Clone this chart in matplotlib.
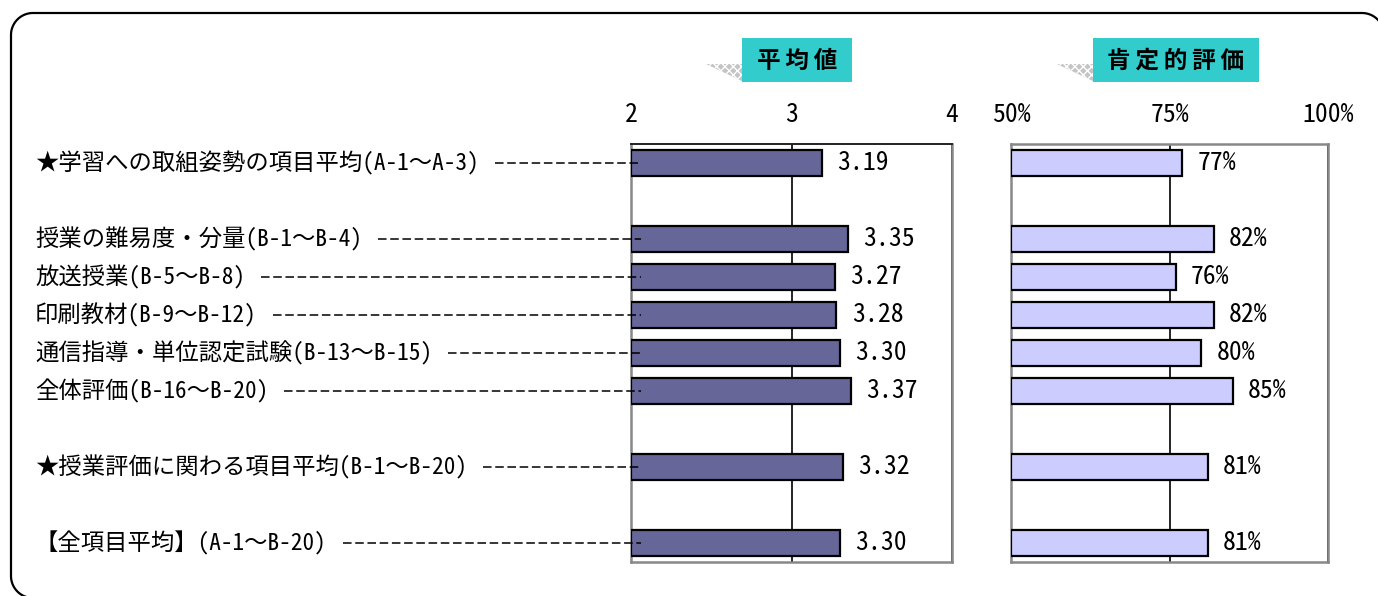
import numpy as np
import matplotlib
matplotlib.use('Agg')
import matplotlib.pyplot as plt
from matplotlib.patches import Rectangle, Polygon
from matplotlib.lines import Line2D
from matplotlib.transforms import Affine2D, blended_transform_factory
from matplotlib.ticker import FuncFormatter

plt.rcParams['font.family'] = ['Noto Sans CJK JP', 'DejaVu Sans']

categories = [
    "★学習への取組姿勢の項目平均(A-1～A-3)",
    "授業の難易度・分量(B-1～B-4)",
    "放送授業(B-5～B-8)",
    "印刷教材(B-9～B-12)",
    "通信指導・単位認定試験(B-13～B-15)",
    "全体評価(B-16～B-20)",
    "★授業評価に関わる項目平均(B-1～B-20)",
    "【全項目平均】(A-1～B-20)",
]
means = [3.19, 3.35, 3.27, 3.28, 3.30, 3.37, 3.32, 3.30]
positive = [77, 82, 76, 82, 80, 85, 81, 81]
rows = [0, 2, 3, 4, 5, 6, 8, 10]
mean_ticks = [2, 3, 4]
pct_ticks = [50, 75, 100]
title_mean = "平均値"
title_pos = "肯定的評価"

W, H = 1378, 596
fig = plt.figure(figsize=(W / 100, H / 100), dpi=100)
pix = Affine2D().scale(1 / W, -1 / H).translate(0, 1) + fig.transFigure

MONO = ['Noto Sans Mono CJK JP', 'Noto Sans CJK JP', 'DejaVu Sans']
NUMSIZE = 18.5

def make_axes(x0, x1):
    return fig.add_axes([x0 / W, 1 - 562 / H, (x1 - x0) / W, (562 - 144) / H])

ax1 = make_axes(631, 952)
ax2 = make_axes(1011, 1328)

specs = [
    (ax1, means, mean_ticks, '#666699', lambda v: f"{v:.2f}", lambda v, p: f"{v:.0f}"),
    (ax2, positive, pct_ticks, '#CCCCFF', lambda v: f"{v:.0f}%", lambda v, p: f"{v:.0f}%"),
]
for ax, vals, ticks, color, fmt, tfmt in specs:
    base = ticks[0]
    ax.barh(rows, [v - base for v in vals], left=base, height=0.68,
            color=color, edgecolor='black', linewidth=1.6, zorder=3)
    ax.set_xlim(ticks[0], ticks[-1])
    ax.set_ylim(10.5, -0.5)
    ax.set_yticks([])
    ax.set_xticks(ticks)
    ax.xaxis.tick_top()
    ax.xaxis.set_major_formatter(FuncFormatter(tfmt))
    ax.tick_params(axis='x', length=0, pad=12)
    ax.xaxis.grid(True, color='black', linewidth=1.2, zorder=1)
    ax.set_axisbelow(True)
    for s in ax.spines.values():
        s.set_color('#888888')
        s.set_linewidth(1.8)
    for r, v in zip(rows, vals):
        ax.annotate(fmt(v), xy=(v, r), xytext=(11, 0), textcoords='offset points',
                    va='center', ha='left', fontsize=NUMSIZE, family=MONO, zorder=4)
    for lab in ax.get_xticklabels():
        lab.set_fontfamily(MONO)
        lab.set_fontsize(NUMSIZE)

ax1.spines['top'].set_color('#222222')
ax1.spines['top'].set_linewidth(1.4)

# category labels with dashed leaders
btr = blended_transform_factory(pix, ax1.transData)
texts = []
for r, c in zip(rows, categories):
    t = fig.text(35, r, c, transform=btr, va='center', ha='left', fontsize=16.8, family=MONO)
    texts.append(t)

fig.canvas.draw()
renderer = fig.canvas.get_renderer()
for r, t in zip(rows, texts):
    bb = t.get_window_extent(renderer)
    x_end = bb.x1 * W / fig.bbox.width
    ln = Line2D([x_end + 16, 641], [r, r], transform=btr, color='black',
                linewidth=1.1, linestyle=(0, (5.6, 2.4)), zorder=5)
    fig.add_artist(ln)

# header boxes with shadow wedges
for (bx0, bx1), title in [((742, 852), title_mean), ((1093, 1259), title_pos)]:
    tri = Polygon([(bx0 - 36, 64), (bx0 + 2, 64), (bx0 + 2, 82)], closed=True,
                  transform=pix, facecolor='#C4C4C4', edgecolor='white',
                  linewidth=0, hatch='xxxx', zorder=1)
    fig.add_artist(tri)
    rect = Rectangle((bx0, 38), bx1 - bx0, 44, transform=pix,
                     facecolor='#33CCCC', edgecolor='none', zorder=2)
    fig.add_artist(rect)
    fig.text((bx0 + bx1) / 2, 61, "\u2009".join(title), transform=pix, ha='center', va='center',
             fontsize=17, fontweight='bold', color='black', zorder=3,
             family=['Noto Sans CJK JP', 'DejaVu Sans'])

# rounded outer frame (partly outside the image, as in the reference)
R = 22
L, T, B, RT = 11, 13, 598, 1384
def arc(cx, cy, a0, a1):
    a = np.radians(np.linspace(a0, a1, 30))
    return list(zip(cx + R * np.cos(a), cy + R * np.sin(a)))
pts = [(60, B)]
pts += arc(L + R, B - R, 90, 180)
pts += arc(L + R, T + R, 180, 270)
pts += arc(RT - R, T + R, 270, 360)
pts += [(RT, 640)]
xs, ys = zip(*pts)
fig.add_artist(Line2D(xs, ys, transform=pix, color='black', linewidth=1.6, zorder=0))

fig.savefig('out.png', dpi=100)
